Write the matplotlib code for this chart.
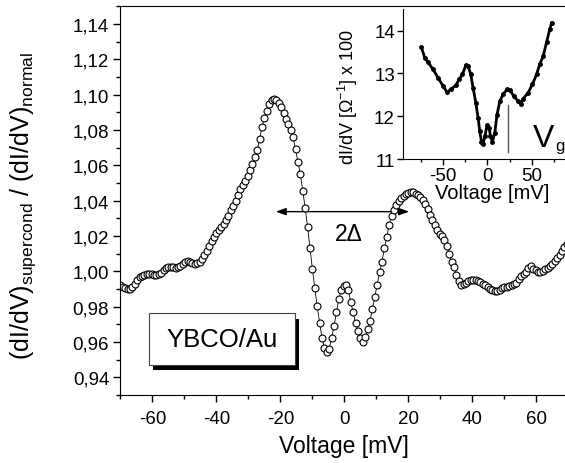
import numpy as np
import matplotlib
matplotlib.use("Agg")
import matplotlib.pyplot as plt
from matplotlib.ticker import MultipleLocator, FuncFormatter
from matplotlib.patches import Rectangle, FancyArrowPatch

# main curve: normalised conductance, sweep from -70 mV in 0.75 mV steps
v_start = -70.0
v_step = 0.75
g_norm = [
    0.9920, 0.9913, 0.9905, 0.9900, 0.9902, 0.9912, 0.9930, 0.9950, 0.9968, 0.9975,
    0.9980, 0.9983, 0.9986, 0.9985, 0.9982, 0.9980, 0.9985, 0.9993, 1.0005, 1.0017,
    1.0022, 1.0024, 1.0023, 1.0021, 1.0024, 1.0031, 1.0040, 1.0053, 1.0058, 1.0052,
    1.0045, 1.0040, 1.0045, 1.0055, 1.0070, 1.0095, 1.0118, 1.0142, 1.0170, 1.0193,
    1.0215, 1.0235, 1.0252, 1.0268, 1.0290, 1.0315, 1.0345, 1.0372, 1.0400, 1.0430,
    1.0468, 1.0490, 1.0510, 1.0540, 1.0575, 1.0610, 1.0645, 1.0685, 1.0750, 1.0815,
    1.0870, 1.0910, 1.0947, 1.0968, 1.0976, 1.0970, 1.0952, 1.0930, 1.0898, 1.0865,
    1.0835, 1.0800, 1.0758, 1.0690, 1.0620, 1.0550, 1.0455, 1.0360, 1.0250, 1.0130,
    1.0015, 0.9905, 0.9805, 0.9710, 0.9625, 0.9568, 0.9546, 0.9560, 0.9625, 0.9688,
    0.9767, 0.9843, 0.9893, 0.9918, 0.9920, 0.9893, 0.9825, 0.9768, 0.9706, 0.9663,
    0.9620, 0.9600, 0.9630, 0.9672, 0.9720, 0.9785, 0.9855, 0.9925, 0.9995, 1.0055,
    1.0130, 1.0195, 1.0265, 1.0315, 1.0345, 1.0375, 1.0398, 1.0415, 1.0427, 1.0437,
    1.0445, 1.0448, 1.0447, 1.0440, 1.0432, 1.0420, 1.0405, 1.0380, 1.0355, 1.0320,
    1.0292, 1.0265, 1.0232, 1.0212, 1.0200, 1.0178, 1.0145, 1.0100, 1.0055, 1.0022,
    0.9982, 0.9948, 0.9925, 0.9926, 0.9932, 0.9943, 0.9950, 0.9953, 0.9953, 0.9947,
    0.9940, 0.9930, 0.9921, 0.9912, 0.9902, 0.9895, 0.9889, 0.9890, 0.9897, 0.9903,
    0.9909, 0.9914, 0.9919, 0.9923, 0.9927, 0.9936, 0.9955, 0.9971, 0.9983, 0.9997,
    1.0020, 1.0028, 1.0015, 1.0005, 0.9994, 0.9995, 1.0003, 1.0011, 1.0020, 1.0031,
    1.0044, 1.0058, 1.0076, 1.0094, 1.0115, 1.0137, 1.0155,
]

# inset: raw conductance (x 100)
v_inset = [-74.6, -70.8, -67.1, -61.5, -55.8, -50.2, -45.6, -40.7, -35.8, -32.0,
           -28.2, -24.5, -21.9, -18.9, -16.3, -13.2, -10.6, -8.7, -6.8, -5.0,
           -3.0, -0.4, 1.9, 3.4, 5.6, 8.2, 10.8, 13.9, 17.6, 22.1,
           25.2, 29.7, 34.6, 37.3, 40.3, 45.9, 50.8, 55.4, 59.1, 62.8,
           66.7, 70.4, 72.3]
g_inset = [13.61, 13.37, 13.26, 13.10, 12.90, 12.71, 12.56, 12.64, 12.72, 12.86,
           12.98, 13.19, 13.18, 12.98, 12.67, 12.32, 11.96, 11.65, 11.41, 11.36,
           11.53, 11.80, 11.73, 11.53, 11.41, 11.61, 12.04, 12.35, 12.51, 12.63,
           12.61, 12.47, 12.35, 12.29, 12.41, 12.55, 12.75, 12.98, 13.22, 13.40,
           13.73, 14.04, 14.18]
v_gap = 23.7

plt.rcParams['font.family'] = ['Liberation Sans', 'DejaVu Sans']
plt.rcParams['mathtext.fontset'] = 'custom'
plt.rcParams['mathtext.rm'] = 'Liberation Sans'
plt.rcParams['mathtext.it'] = 'Liberation Sans'
plt.rcParams['axes.unicode_minus'] = False

voltage = v_start + v_step * np.arange(len(g_norm))

fig = plt.figure(figsize=(5.65, 4.64), dpi=100)
ax = fig.add_axes([0.213, 0.1466, 0.793, 0.8374])

ax.plot(voltage, g_norm, '-', color='black', lw=0.6, marker='o', ms=5,
        mfc='white', mec='black', mew=0.8)

ax.set_xlim(-70, 70)
ax.set_ylim(0.93, 1.15)
ax.xaxis.set_major_locator(MultipleLocator(20))
ax.xaxis.set_minor_locator(MultipleLocator(10))
ax.yaxis.set_major_locator(MultipleLocator(0.02))
ax.yaxis.set_minor_locator(MultipleLocator(0.01))
ax.yaxis.set_major_formatter(FuncFormatter(lambda v, p: f'{v:.2f}'.replace('.', ',')))
ax.tick_params(which='both', direction='out', top=False, right=False, labelsize=13.5, width=1)
ax.tick_params(which='major', length=5)
ax.tick_params(which='minor', length=3)
ax.tick_params(axis='x', pad=6)
ax.tick_params(axis='y', pad=3)
ax.spines['right'].set_visible(False)

ax.set_xlabel('Voltage [mV]', fontsize=16.5)
ax.xaxis.set_label_coords(0.5, -0.1)
ax.set_ylabel(r'(dI/dV)$_{\mathrm{supercond}}$ / (dI/dV)$_{\mathrm{normal}}$', fontsize=18)
ax.yaxis.set_label_coords(-0.184, 0.49)

# 2 Delta arrow
ax.add_patch(FancyArrowPatch((-22.3, 1.0338), (21.1, 1.0338),
                             arrowstyle='<|-|>,head_length=0.5,head_width=0.18',
                             color='black', lw=1, mutation_scale=12))
ax.text(-2.9, 1.0175, '2\u0394', fontsize=16.5, ha='left', va='baseline')

# YBCO/Au label box with shadow
ax.add_patch(Rectangle((0.073, 0.064), 0.3255, 0.132, transform=ax.transAxes,
                       facecolor='black', edgecolor='none', zorder=4))
ax.add_patch(Rectangle((0.064, 0.078), 0.3255, 0.132, transform=ax.transAxes,
                       facecolor='white', edgecolor='#444444', lw=0.8, zorder=5))
ax.text(0.2266, 0.144, 'YBCO/Au', transform=ax.transAxes, fontsize=18.5,
        ha='center', va='center', zorder=6)

# inset
axi = fig.add_axes([0.7138, 0.655, 0.298, 0.323])
axi.patch.set_alpha(0)
axi.plot(v_inset, g_inset, '-', color='black', lw=2.0, marker='o', ms=2.5)
axi.plot([v_gap, v_gap], [11.16, 12.26], color='#555555', lw=1)
axi.text(51.2, 11.30, 'V', fontsize=23, ha='left', va='baseline')
axi.text(77.0, 11.22, 'g', fontsize=12, ha='left', va='baseline')

axi.set_xlim(-95, 95)
axi.set_ylim(11, 14.5)
axi.xaxis.set_major_locator(MultipleLocator(50))
axi.xaxis.set_minor_locator(MultipleLocator(25))
axi.yaxis.set_major_locator(MultipleLocator(1))
axi.spines['right'].set_visible(False)
axi.spines['top'].set_visible(False)
axi.tick_params(which='both', direction='out', top=False, right=False, labelsize=13.5, width=1)
axi.tick_params(which='major', length=4, pad=2)
axi.tick_params(which='minor', length=2.5)
axi.set_xlabel('Voltage [mV]', fontsize=14.5)
axi.xaxis.set_label_coords(0.53, -0.16)
axi.set_ylabel(r'dI/dV [$\Omega^{-1}$] x 100', fontsize=13)
axi.yaxis.set_label_coords(-0.255, 0.42)

fig.savefig('out.png', dpi=100)
